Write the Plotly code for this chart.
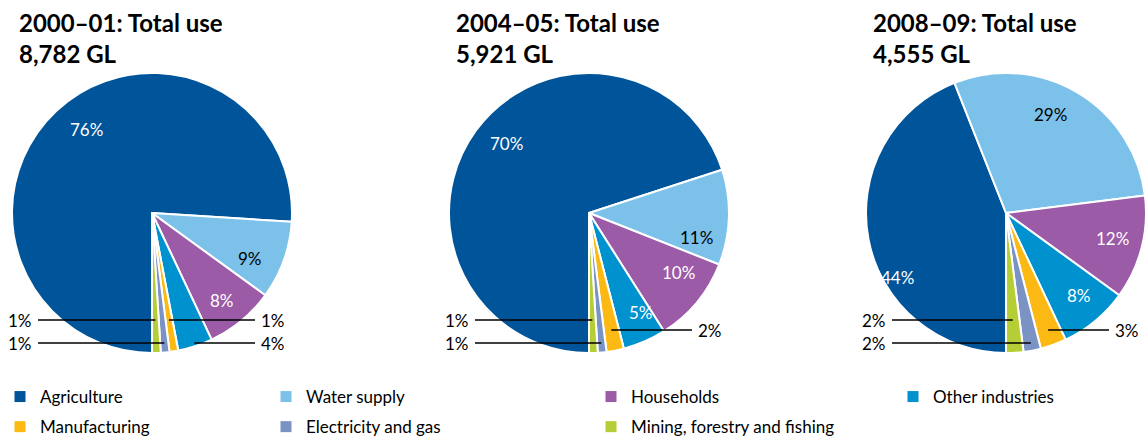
import math
import plotly.graph_objects as go

# ---------------- data ----------------
categories = ["Agriculture", "Water supply", "Households", "Other industries",
              "Manufacturing", "Electricity and gas", "Mining, forestry and fishing"]
periods = ["2000–01", "2004–05", "2008–09"]
total_use_gl = ["8,782", "5,921", "4,555"]
share_2000_01 = [76, 9, 8, 4, 1, 1, 1]
share_2004_05 = [70, 11, 10, 5, 2, 1, 1]
share_2008_09 = [44, 29, 12, 8, 3, 2, 2]
shares = [share_2000_01, share_2004_05, share_2008_09]

# ---------------- styles / layout ----------------
W, H = 1146, 436
colors = ["#00549a", "#7cc1ea", "#9b5ba6", "#0091cf", "#fdb913", "#7a92c4", "#b5ce36"]
inside_text_color = ["white", "black", "white", "white", "white", "white", "white"]
FONT = "Lato"
centers_px = [(152, 213), (589, 213), (1006, 213)]
R = 140

# inside label placement tweaks: {category index: (angle offset deg, radius fraction)}
inside_labels = [
    {0: (5, 0.76), 1: (5, 0.77), 2: (1, 0.8)},
    {0: (4, 0.77), 1: (11, 0.79), 2: (-6, 0.77), 3: (-4, 0.8)},
    {0: (-20, 0.9), 1: (-6, 0.77), 2: (-1, 0.78), 3: (-2, 0.79)},
]
# outside (leader-line) labels: (category index, side, vertical offset from centre in px)
outside_labels = [
    [(6, "left", 107), (5, "left", 130), (4, "right", 107), (3, "right", 130)],
    [(6, "left", 107), (5, "left", 130), (4, "right", 117)],
    [(6, "left", 107), (5, "left", 130), (4, "right", 117)],
]


def px_to_paper(x, y):
    return x / W, 1 - y / H


fig = go.Figure()
annotations = []
shapes = []

for k, vals in enumerate(shares):
    cx, cy = centers_px[k]
    x0, y1 = px_to_paper(cx - R, cy - R)
    x1, y0 = px_to_paper(cx + R, cy + R)
    fig.add_trace(go.Pie(
        labels=categories, values=vals, sort=False, direction="clockwise",
        rotation=180, marker=dict(colors=colors, line=dict(color="white", width=2)),
        textinfo="none", showlegend=False, domain=dict(x=[x0, x1], y=[y0, y1]),
        hovertemplate="%{label}: %{value}%<extra>" + periods[k] + "</extra>",
    ))

    total = sum(vals)
    cum = 0
    mids = []
    for v in vals:
        mids.append(180 + 360 * (cum + v / 2) / total)
        cum += v

    # inside labels
    for idx, (dth, rf) in inside_labels[k].items():
        th = math.radians(mids[idx] + dth)
        px = cx + rf * R * math.sin(th)
        py = cy - rf * R * math.cos(th)
        ax, ay = px_to_paper(px, py)
        annotations.append(dict(x=ax, y=ay, xref="paper", yref="paper", showarrow=False,
                                text=f"{vals[idx]}%", xanchor="center", yanchor="middle",
                                font=dict(family=FONT, size=17, color=inside_text_color[idx])))

    # outside labels with leader lines
    for idx, side, dy in outside_labels[k]:
        th = math.radians(mids[idx])
        tip_x = cx - dy * math.tan(th)
        py = cy + dy
        if side == "left":
            end_x = cx - 114
            tx, anchor = end_x - 4, "right"
        else:
            end_x = cx + 103
            tx, anchor = end_x + 4, "left"
        a0, b0 = px_to_paper(end_x, py)
        a1, b1 = px_to_paper(tip_x, py)
        shapes.append(dict(type="line", xref="paper", yref="paper", x0=a0, y0=b0, x1=a1, y1=b1,
                           line=dict(color="black", width=1.5)))
        ta, tb = px_to_paper(tx, py)
        annotations.append(dict(x=ta, y=tb, xref="paper", yref="paper", showarrow=False,
                                text=f"{vals[idx]}%", xanchor=anchor, yanchor="middle",
                                font=dict(family=FONT, size=17, color="black")))

    # title
    tx, ty = px_to_paper(cx - 135, 6)
    annotations.append(dict(x=tx, y=ty, xref="paper", yref="paper", showarrow=False,
                            xanchor="left", yanchor="top", align="left",
                            text=f"<b>{periods[k]}: Total use<br>{total_use_gl[k]} GL</b>",
                            font=dict(family=FONT, size=24, color="black")))

# legend entries (dummy traces, one legend per column)
legend_cols = [[0, 4], [1, 5], [2, 6], [3]]
legend_x_px = [0, 266, 591, 893]
legend_names = ["legend", "legend2", "legend3", "legend4"]
for c, items in enumerate(legend_cols):
    for idx in items:
        fig.add_trace(go.Scatter(
            x=[None], y=[None], mode="markers", name=categories[idx],
            marker=dict(symbol="square", size=11, color=colors[idx]),
            legend=legend_names[c], legendgroup=categories[idx], hoverinfo="skip",
        ))

legend_common = dict(orientation="v", yanchor="top", xanchor="left",
                     font=dict(family=FONT, size=17, color="black"),
                     bgcolor="rgba(0,0,0,0)", tracegroupgap=5, traceorder="grouped",
                     itemclick=False, itemdoubleclick=False)
layout_legends = {}
for c, name in enumerate(legend_names):
    lx, ly = px_to_paper(legend_x_px[c], 379)
    layout_legends[name] = dict(x=lx, y=ly, **legend_common)

fig.update_layout(
    width=W, height=H, margin=dict(l=0, r=0, t=0, b=0, autoexpand=False),
    paper_bgcolor="white", plot_bgcolor="white",
    xaxis=dict(visible=False), yaxis=dict(visible=False),
    annotations=annotations, shapes=shapes,
    font=dict(family=FONT),
    **layout_legends,
)

fig.write_html("out.html", config={"displayModeBar": False},
               post_script="document.body.style.margin='0';document.body.style.overflow='hidden';")
